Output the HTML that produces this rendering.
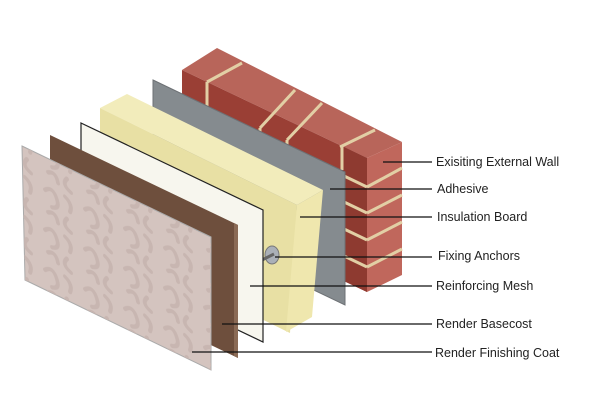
<!DOCTYPE html>
<html><head><meta charset="utf-8"><style>
html,body{margin:0;padding:0;background:#fff;width:600px;height:400px;overflow:hidden}
text{font-family:"Liberation Sans",sans-serif;font-size:12.5px;fill:#222}
</style></head><body>
<svg width="600" height="400" viewBox="0 0 600 400" xmlns="http://www.w3.org/2000/svg">
<defs>
<pattern id="sq" width="40" height="40" patternUnits="userSpaceOnUse" patternTransform="skewY(26)">
<g stroke="#c8b6b1" stroke-width="4" fill="none" stroke-linecap="round">
<path d="M5,8 q8,-8 12,4 q3,8 -5,10"/><path d="M25,5 q8,4 5,13"/><path d="M27,26 q-6,8 4,12"/><path d="M8,29 q8,-5 10,6"/>
</g></pattern>
</defs>
<!-- Brick wall -->
<polygon points="182,70 217,48 402,142 367,158" fill="#b8655a"/>
<polygon points="182,70 367,158 367,292 182,205" fill="#9a3f35"/>
<polygon points="367,158 402,142 402,275 367,292" fill="#c0675c"/>
<polygon points="342,146 367,158 367,292 342,280" fill="#8e3a30"/>
<g stroke="#e2cfa5" stroke-width="3" fill="none">
<line x1="207" y1="82" x2="242" y2="63"/>
<line x1="260" y1="128" x2="295" y2="90"/>
<line x1="287" y1="140" x2="322" y2="103"/>
<line x1="340" y1="147" x2="375" y2="130"/>
<line x1="207" y1="82" x2="207" y2="130"/>
<line x1="260" y1="128" x2="260" y2="150"/>
<line x1="287" y1="140" x2="287" y2="160"/>
<line x1="342" y1="146" x2="342" y2="170"/>
<line x1="367" y1="187" x2="402" y2="168"/>
<line x1="367" y1="213" x2="402" y2="195"/>
<line x1="367" y1="240" x2="402" y2="222"/>
<line x1="367" y1="267" x2="402" y2="249"/>
<line x1="342" y1="175" x2="367" y2="187"/>
<line x1="342" y1="201" x2="367" y2="213"/>
<line x1="342" y1="228" x2="367" y2="240"/>
<line x1="342" y1="255" x2="367" y2="267"/>
</g>
<!-- Adhesive -->
<polygon points="153,80 345,172 345,305 153,213" fill="#858b8f" stroke="#6d7175" stroke-width="1"/>
<!-- Insulation -->
<polygon points="100,108 127,94 323,190 297,205" fill="#f2ecbb"/>
<polygon points="100,108 297,205 290,333 100,240" fill="#e8e0a4"/>
<polygon points="297,205 323,190 312,317 286,332" fill="#efe7ae"/>
<!-- Anchor -->
<ellipse cx="272" cy="255" rx="7" ry="9" fill="#aab0b8" stroke="#777" stroke-width="1"/>
<line x1="262" y1="260" x2="274" y2="254" stroke="#666" stroke-width="3"/>
<!-- Mesh -->
<polygon points="81,123 263,210 263,342 81,255" fill="#f7f6ee" stroke="#222" stroke-width="1.2"/>
<!-- Basecoat -->
<polygon points="50,135 238,225 238,358 50,268" fill="#6e4f3d"/>
<polygon points="234,223 238,225 238,358 234,356" fill="#8a6a55"/>
<!-- Finish coat -->
<polygon points="22,146 211,237 211,370 25,280" fill="#d4c4bf" stroke="#aaa" stroke-width="1"/>
<polygon points="22,146 211,237 211,370 25,280" fill="url(#sq)"/>
<!-- Leader lines -->
<g stroke="#111" stroke-width="1.3">
<line x1="383" y1="162" x2="432" y2="162"/>
<line x1="330" y1="189" x2="432" y2="189"/>
<line x1="300" y1="217" x2="432" y2="217"/>
<line x1="275" y1="257" x2="432" y2="257"/>
<line x1="250" y1="286" x2="432" y2="286"/>
<line x1="222" y1="324" x2="432" y2="324"/>
<line x1="192" y1="352" x2="432" y2="352"/>
</g>
<text x="436" y="166">Exisiting External Wall</text>
<text x="437" y="193">Adhesive</text>
<text x="437" y="221">Insulation Board</text>
<text x="438" y="260">Fixing Anchors</text>
<text x="436" y="290">Reinforcing Mesh</text>
<text x="436" y="328">Render Basecost</text>
<text x="435" y="357">Render Finishing Coat</text>
</svg>
</body></html>
